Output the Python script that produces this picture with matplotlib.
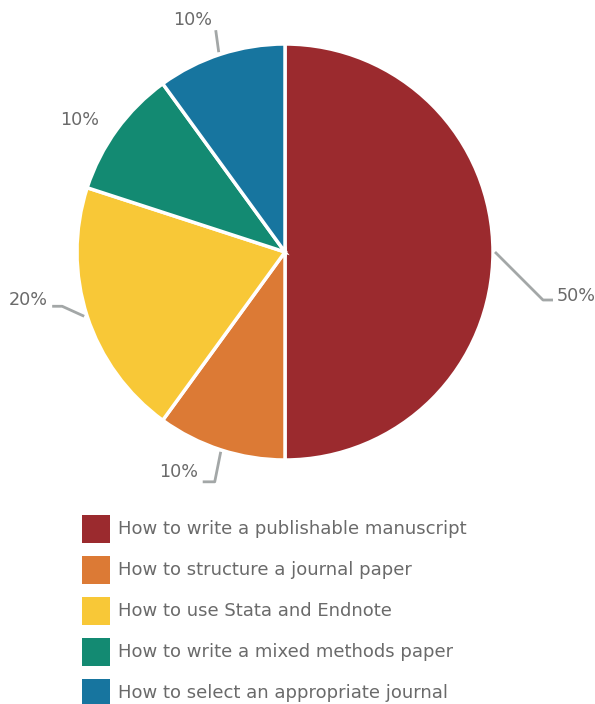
import numpy as np
import matplotlib.pyplot as plt
from matplotlib.patches import Rectangle

# Workshop topics and their shares
topics = [
    "How to write a publishable manuscript",
    "How to structure a journal paper",
    "How to use Stata and Endnote",
    "How to write a mixed methods paper",
    "How to select an appropriate journal",
]
shares = [50, 10, 20, 10, 10]
colors = ["#9b2a2e", "#dc7a35", "#f8c837", "#138a72", "#17759f"]

W, H = 595, 704
fig = plt.figure(figsize=(W / 100, H / 100), dpi=100)
ax = fig.add_axes([0, 0, 1, 1])

cx, cy, R = 285, H - 252, 208
wedges, _ = ax.pie(shares, colors=colors, startangle=90, counterclock=False,
                   center=(cx, cy), radius=R, frame=True,
                   wedgeprops=dict(edgecolor="white", linewidth=2.5))
ax.set_xlim(0, W)
ax.set_ylim(0, H)
ax.set_aspect("equal")
ax.axis("off")

# leader line path (pixel offsets from the rim point) and label anchor per slice
leaders = [
    [(2, 0), (50, -48), (60, -48)],
    [(0, -2), (-6, -32), (-18, -32)],
    [(-3, 0), (-25, 10), (-35, 10)],
    None,
    [(-2, 2), (-5, 24)],
]
label_pos = [(64, -44, "left"), (-23, -22, "right"), (-39, 16, "right"),
             (-37, 10, "center"), (-9, 34, "right")]

line_col = "#a3a7a7"
txt_col = "#6a6a6a"
for w, pct, path, (dx, dy, ha) in zip(wedges, shares, leaders, label_pos):
    mid = np.deg2rad((w.theta1 + w.theta2) / 2)
    ex, ey = cx + R * np.cos(mid), cy + R * np.sin(mid)
    if path:
        xs = [ex + p[0] for p in path]
        ys = [ey + p[1] for p in path]
        ax.plot(xs, ys, color=line_col, lw=2, solid_capstyle="butt")
    ax.text(ex + dx, ey + dy, f"{pct}%", ha=ha, va="center",
            fontsize=12.7, color=txt_col, family="DejaVu Sans")

# legend block underneath the pie
row0, step = H - 529, 41
for i, (name, c) in enumerate(zip(topics, colors)):
    y = row0 - i * step
    ax.add_patch(Rectangle((82, y - 14), 28, 28, facecolor=c, edgecolor="none"))
    ax.text(118, y, name, ha="left", va="center", fontsize=13,
            color=txt_col, family="DejaVu Sans")

fig.savefig("out.png", dpi=100)
